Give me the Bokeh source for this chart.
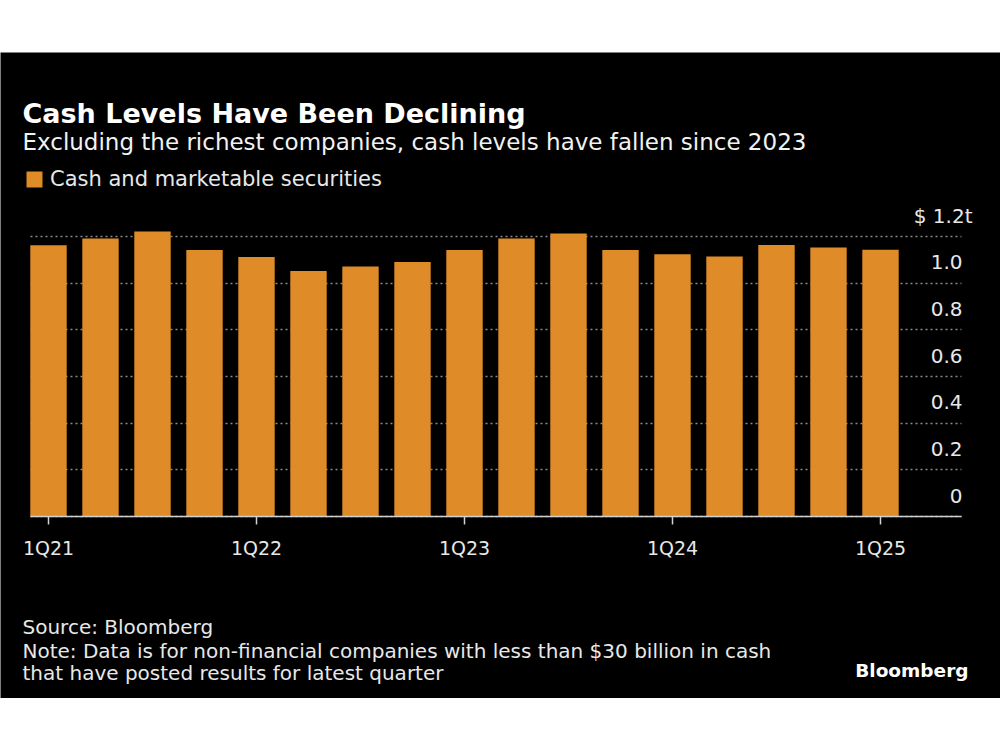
from bokeh.plotting import figure
from bokeh.models import Range1d, LinearAxis, FixedTicker, Label, Legend, LegendItem
from bokeh.embed import file_html
from bokeh.resources import INLINE

# quarterly cash and marketable securities, $ trillions
quarters = ["1Q21", "2Q21", "3Q21", "4Q21", "1Q22", "2Q22", "3Q22", "4Q22",
            "1Q23", "2Q23", "3Q23", "4Q23", "1Q24", "2Q24", "3Q24", "4Q24", "1Q25"]
cash = [1.163, 1.191, 1.221, 1.142, 1.112, 1.052, 1.071, 1.091,
        1.142, 1.191, 1.213, 1.142, 1.124, 1.114, 1.164, 1.153, 1.143]
y_ticks = [0, 0.2, 0.4, 0.6, 0.8, 1.0, 1.2]
y_labels = ["0", "0.2", "0.4", "0.6", "0.8", "1.0", "$ 1.2t"]

title = "Cash Levels Have Been Declining"
subtitle = "Excluding the richest companies, cash levels have fallen since 2023"
series_name = "Cash and marketable securities"
source = "Source: Bloomberg"
note1 = "Note: Data is for non-financial companies with less than $30 billion in cash"
note2 = "that have posted results for latest quarter"

ORANGE = "#de8b28"
TEXT = "#e8e8e8"
FONT = "DejaVu Sans"

# page geometry in pixels; the figure covers page y 52..698
TOP, BOTTOM, W = 52, 698, 1000
X0, STEP = 48, 52          # centre of first bar, spacing of bars
Y0, PX_PER_UNIT = 516, 233.33
PLOT_L, PLOT_R = 30, 961


def dx(px):
    return (px - X0) / STEP


def dy(py):
    return (Y0 - py) / PX_PER_UNIT


p = figure(width=W, height=BOTTOM - TOP, output_backend="svg", toolbar_location=None,
           x_range=Range1d(dx(0), dx(W)),
           y_range=Range1d(dy(BOTTOM), dy(TOP)),
           x_axis_location=None, y_axis_location=None, title=None,
           min_border=0, margin=(TOP, 0, 0, 0))
p.background_fill_color = "black"
p.border_fill_color = "black"
p.outline_line_color = None

idx = list(range(len(quarters)))
bars = p.vbar(x=idx, top=cash, width=0.7, color=ORANGE, line_color=None)

# dotted horizontal grid, stopping at the plot edges
p.xgrid.visible = False
p.ygrid.ticker = FixedTicker(ticks=y_ticks)
p.ygrid.cross_bounds = (dx(PLOT_L), dx(PLOT_R))
p.ygrid.grid_line_color = "#8a8a8a"
p.ygrid.grid_line_dash = "2 3"
p.ygrid.grid_line_width = 1.5

# x axis at zero: only first quarters labelled
xa = LinearAxis(fixed_location=0, bounds=(dx(PLOT_L), dx(PLOT_R)),
                ticker=FixedTicker(ticks=[i for i, q in enumerate(quarters) if q.startswith("1Q")]),
                major_label_overrides={i: q for i, q in enumerate(quarters)})
xa.axis_line_color = "#d0d0d0"
xa.axis_line_width = 1.5
xa.major_tick_line_color = "#d0d0d0"
xa.major_tick_line_width = 1.5
xa.major_tick_out = 8
xa.major_tick_in = 0
xa.minor_tick_line_color = None
xa.major_label_standoff = 12
xa.major_label_text_font = FONT
xa.major_label_text_font_size = "19px"
xa.major_label_text_color = TEXT
p.add_layout(xa, "below")

# y labels sit just above their gridlines, right aligned at the plot edge;
# an en space pads the plain numbers so the unit "t" hangs past the edge
shift = 21 / PX_PER_UNIT
pad = "\u2002"
p.extra_y_ranges = {"lab": Range1d(dy(BOTTOM) - shift, dy(TOP) - shift)}
ya = LinearAxis(y_range_name="lab", fixed_location=dx(972),
                ticker=FixedTicker(ticks=y_ticks),
                major_label_overrides={t: (l if l.endswith("t") else l + pad)
                                       for t, l in zip(y_ticks, y_labels)})
ya.axis_line_color = None
ya.major_tick_line_color = None
ya.minor_tick_line_color = None
ya.major_tick_in = 0
ya.major_tick_out = 0
ya.major_label_standoff = 0
ya.major_label_text_font = FONT
ya.major_label_text_font_size = "20px"
ya.major_label_text_color = TEXT
p.add_layout(ya, "left")

legend = Legend(items=[LegendItem(label=series_name, renderers=[bars])],
                location=(24, BOTTOM - 192), orientation="horizontal",
                margin=0, padding=0, spacing=0,
                glyph_width=20, glyph_height=20, label_height=26, label_standoff=6,
                label_text_font=FONT, label_text_font_size="21px",
                label_text_color=TEXT,
                border_line_color=None, background_fill_alpha=0)
p.add_layout(legend, "center")

# texts
p.add_layout(Label(x=dx(22), y=dy(112.5), text=title, text_font=FONT,
                   text_font_style="bold", text_font_size="27px",
                   text_color="white", text_baseline="alphabetic"))
p.add_layout(Label(x=dx(22), y=dy(141.5), text=subtitle, text_font=FONT,
                   text_font_size="23px", text_color="#f2f2f2",
                   text_baseline="alphabetic"))
for txt, base in [(source, 626.7), (note1, 650), (note2, 672.5)]:
    p.add_layout(Label(x=dx(22), y=dy(base), text=txt, text_font=FONT,
                       text_font_size="20px", text_color=TEXT,
                       text_baseline="alphabetic"))
p.add_layout(Label(x=dx(968), y=dy(669.5), text="Bloomberg", text_font=FONT,
                   text_font_style="bold", text_font_size="18.5px",
                   text_color="white", text_align="right",
                   text_baseline="alphabetic"))

open("out.html", "w").write(file_html(p, INLINE))
